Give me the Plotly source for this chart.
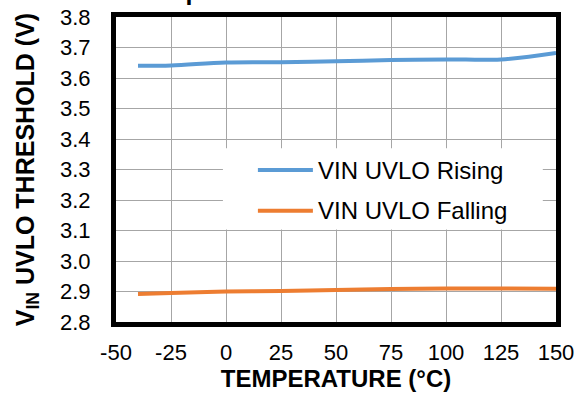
import plotly.graph_objects as go

temps = [-40, -25, 0, 25, 50, 75, 100, 125, 150]
rising = [3.640, 3.641, 3.651, 3.652, 3.655, 3.659, 3.661, 3.661, 3.682]
falling = [2.892, 2.895, 2.900, 2.902, 2.905, 2.908, 2.910, 2.910, 2.909]
x_ticks = [-50, -25, 0, 25, 50, 75, 100, 125, 150]
y_ticks = [2.8, 2.9, 3.0, 3.1, 3.2, 3.3, 3.4, 3.5, 3.6, 3.7, 3.8]
names = ["VIN UVLO Rising", "VIN UVLO Falling"]
colors = ["#5B9BD5", "#ED7D31"]

fig = go.Figure()
for name, vals, col in zip(names, [rising, falling], colors):
    fig.add_trace(go.Scatter(x=temps, y=vals, mode="lines", name=name,
                             line=dict(color=col, width=4, shape="spline"),
                             showlegend=False))

font = "Liberation Sans, Arial, sans-serif"
fig.update_layout(
    width=577, height=393,
    margin=dict(l=116, r=21, t=17, b=71),
    paper_bgcolor="white", plot_bgcolor="white",
    font=dict(family=font, size=22, color="black"),
    xaxis=dict(range=[-50, 150], tickvals=x_ticks,
               ticktext=[str(v) for v in x_ticks], automargin=False,
               showgrid=True, gridcolor="#a6a6a6", gridwidth=1,
               showline=True, linecolor="black", linewidth=5, mirror=True,
               ticks="outside", ticklen=7, tickcolor="rgba(0,0,0,0)",
               zeroline=False,
               title=dict(text="<b>TEMPERATURE (°C)</b>", standoff=6,
                          font=dict(size=24))),
    yaxis=dict(range=[2.8, 3.8], tickvals=y_ticks,
               ticktext=[f"{v:.1f}" for v in y_ticks], automargin=False,
               showgrid=True, gridcolor="#a6a6a6", gridwidth=1,
               showline=True, linecolor="black", linewidth=5, mirror=True,
               ticks="outside", ticklen=16, tickcolor="rgba(0,0,0,0)",
               zeroline=False,
               title=dict(text="<b>V<sub>IN</sub> UVLO THRESHOLD (V)</b>",
                          standoff=20, font=dict(size=25))),
)

# Custom legend (white box, long line samples)
fig.add_shape(type="rect", xref="x", yref="y", x0=-1.4, x1=144, y0=3.103, y1=3.37,
              fillcolor="white", line=dict(width=0), layer="above")
for name, col, ly in zip(names, colors, [3.298, 3.165]):
    fig.add_shape(type="line", xref="x", yref="y", x0=14.5, x1=39.5, y0=ly, y1=ly,
                  line=dict(color=col, width=4), layer="above")
    fig.add_annotation(x=40.8, y=ly, xref="x", yref="y", text=name, showarrow=False,
                       xanchor="left", yanchor="middle", font=dict(size=24))

# Clipped chart title at the top
fig.add_annotation(x=(288 - 116) / 440, y=1 + (17 - 7) / 305, xref="paper", yref="paper",
                   text="<b>Temperature</b>", showarrow=False,
                   xanchor="right", yanchor="bottom", font=dict(size=25))

fig.write_html("out.html")
